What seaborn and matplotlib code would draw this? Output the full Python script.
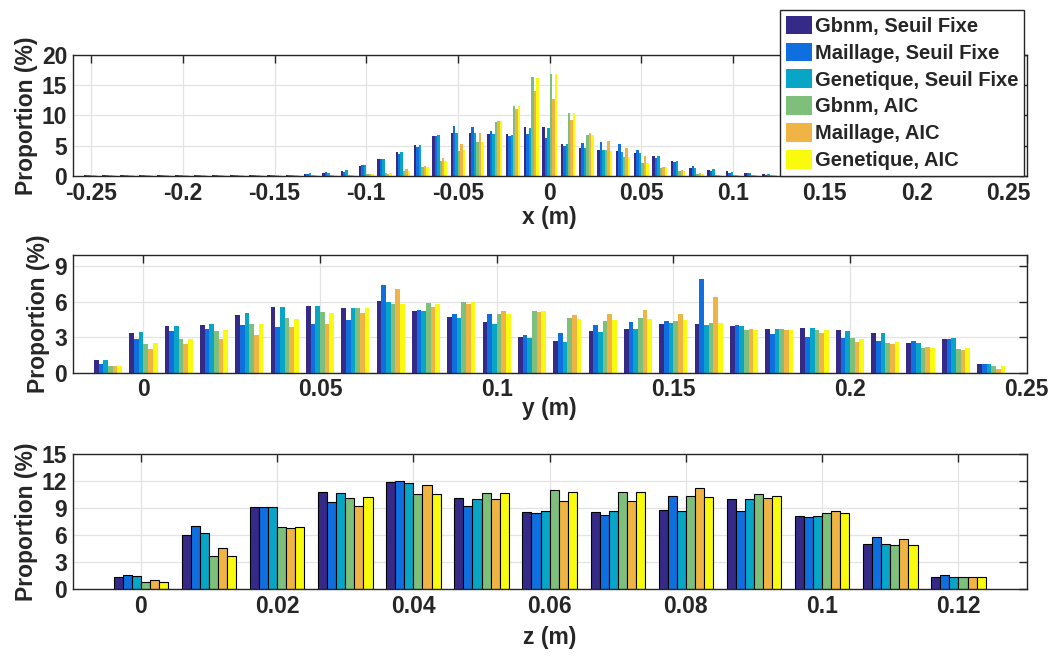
import numpy as np
import pandas as pd
import matplotlib
matplotlib.use("Agg")
import matplotlib.pyplot as plt
from matplotlib.ticker import MultipleLocator, FuncFormatter
import seaborn as sns

#-----------------------------------------------------------------------------------------------------
# Series et couleurs
series = ["Gbnm, Seuil Fixe", "Maillage, Seuil Fixe", "Genetique, Seuil Fixe",
          "Gbnm, AIC", "Maillage, AIC", "Genetique, AIC"]
colors = ["#352A87", "#0F6FDE", "#08A5C6", "#7DBF7B", "#F0B445", "#F9FB0E"]

# x : classes de -0.25 a 0.25 (pas 0.01)
x_bins = np.round(np.arange(-0.25, 0.2501, 0.01), 2)
x_gbnm_sf = [0.08, 0.08, 0.08, 0.08, 0.08, 0.08, 0.08, 0.08, 0.08, 0.08,
             0.15, 0.2, 0.3, 0.55, 0.8, 1.7, 2.75, 3.95, 5.1, 6.6,
             7.05, 7.05, 6.9, 6.9, 8.05, 8.05, 5.27, 4.6, 4.3, 4.1,
             3.8, 3.3, 2.47, 1.3, 1.0, 0.82, 0.5, 0.33, 0.2, 0.15,
             0.08, 0.08, 0.08, 0.08, 0.08, 0.08, 0.08, 0.08, 0.08, 0.08, 0.08]
x_maill_sf = [0.08, 0.08, 0.08, 0.08, 0.08, 0.08, 0.08, 0.08, 0.08, 0.08,
              0.1, 0.2, 0.4, 0.65, 0.65, 1.8, 2.75, 3.65, 4.75, 6.6,
              8.2, 8.05, 7.4, 6.6, 6.9, 6.25, 4.95, 5.45, 5.6, 5.27,
              4.3, 2.95, 2.3, 1.65, 0.82, 0.5, 0.5, 0.15, 0.15, 0.1,
              0.08, 0.08, 0.08, 0.08, 0.08, 0.08, 0.08, 0.08, 0.08, 0.08, 0.08]
x_gen_sf = [0.08, 0.08, 0.08, 0.08, 0.08, 0.08, 0.08, 0.08, 0.08, 0.08,
            0.1, 0.2, 0.5, 0.5, 1.0, 1.8, 2.75, 3.95, 5.1, 6.75,
            7.05, 7.05, 6.9, 6.75, 7.9, 7.9, 5.27, 4.6, 4.3, 3.95,
            3.8, 3.3, 2.47, 1.3, 1.15, 0.66, 0.5, 0.33, 0.2, 0.1,
            0.08, 0.08, 0.08, 0.08, 0.08, 0.08, 0.08, 0.08, 0.08, 0.08, 0.08]
x_gbnm_aic = [0.08, 0.08, 0.08, 0.08, 0.08, 0.08, 0.08, 0.08, 0.08, 0.08,
              0.08, 0.08, 0.08, 0.1, 0.15, 0.35, 0.5, 0.8, 1.55, 2.45,
              4.1, 5.6, 8.9, 11.6, 16.4, 16.8, 10.4, 6.75, 4.3, 3.1,
              2.15, 1.3, 0.8, 0.33, 0.15, 0.15, 0.08, 0.08, 0.08, 0.08,
              0.08, 0.08, 0.08, 0.08, 0.08, 0.08, 0.08, 0.08, 0.08, 0.08, 0.08]
x_maill_aic = [0.08, 0.08, 0.08, 0.08, 0.08, 0.08, 0.08, 0.08, 0.08, 0.08,
               0.08, 0.08, 0.08, 0.1, 0.15, 0.35, 0.35, 1.15, 1.7, 2.95,
               5.25, 7.05, 9.05, 11.1, 14.0, 12.7, 9.2, 7.1, 5.75, 4.6,
               3.3, 1.5, 1.0, 0.5, 0.15, 0.15, 0.08, 0.08, 0.08, 0.08,
               0.08, 0.08, 0.08, 0.08, 0.08, 0.08, 0.08, 0.08, 0.08, 0.08, 0.08]
x_gen_aic = [0.08, 0.08, 0.08, 0.08, 0.08, 0.08, 0.08, 0.08, 0.08, 0.08,
             0.08, 0.08, 0.08, 0.1, 0.15, 0.35, 0.5, 0.8, 1.5, 2.45,
             4.25, 5.6, 9.05, 11.5, 16.1, 16.8, 10.4, 6.75, 4.1, 3.1,
             2.15, 1.5, 0.8, 0.33, 0.15, 0.15, 0.08, 0.08, 0.08, 0.08,
             0.08, 0.08, 0.08, 0.08, 0.08, 0.08, 0.08, 0.08, 0.08, 0.08, 0.08]

# y : classes de -0.01 a 0.24
y_bins = np.round(np.arange(-0.01, 0.2401, 0.01), 2)
y_gbnm_sf = [1.07, 3.34, 3.93, 4.02, 4.86, 5.53, 5.62, 5.45, 6.04, 5.2, 4.69, 4.27, 3.0,
             2.67, 3.51, 3.68, 4.1, 4.1, 3.93, 3.68, 3.76, 3.6, 3.34, 2.5, 2.84, 0.73]
y_maill_sf = [0.73, 2.84, 3.51, 3.68, 4.02, 3.85, 4.1, 4.44, 7.39, 5.28, 4.94, 4.94, 3.17,
              3.34, 4.02, 4.27, 4.35, 7.98, 4.02, 3.26, 3.0, 2.92, 2.67, 2.67, 2.84, 0.73]
y_gen_sf = [1.07, 3.43, 3.93, 4.1, 5.03, 5.53, 5.62, 5.45, 5.96, 5.2, 4.6, 4.1, 2.92,
            2.58, 3.43, 3.68, 4.19, 4.02, 3.93, 3.68, 3.76, 3.51, 3.34, 2.5, 2.92, 0.73]
y_gbnm_aic = [0.56, 2.42, 2.84, 3.51, 4.1, 4.6, 5.11, 5.45, 5.79, 5.87, 5.96, 4.94, 5.2,
              4.6, 4.35, 4.6, 4.35, 4.19, 3.6, 3.68, 3.6, 2.92, 2.5, 2.08, 2.0, 0.56]
y_maill_aic = [0.56, 2.0, 2.42, 2.84, 3.17, 3.85, 4.1, 5.03, 7.13, 5.53, 5.79, 5.2, 5.11,
               4.86, 4.94, 5.28, 4.94, 6.38, 3.68, 3.6, 3.34, 2.58, 2.42, 2.16, 1.91, 0.31]
y_gen_aic = [0.56, 2.5, 2.84, 3.6, 4.1, 4.52, 5.03, 5.45, 5.79, 5.79, 5.96, 4.94, 5.2,
             4.52, 4.44, 4.52, 4.44, 4.19, 3.6, 3.6, 3.6, 2.84, 2.58, 2.08, 2.08, 0.56]

# z : classes de 0 a 0.12
z_bins = np.round(np.arange(0.0, 0.1201, 0.01), 2)
z_gbnm_sf = [1.37, 5.96, 9.15, 10.78, 11.93, 10.19, 8.63, 8.63, 8.78, 10.07, 8.15, 5.04, 1.33]
z_maill_sf = [1.56, 7.0, 9.11, 9.74, 12.07, 9.3, 8.52, 8.19, 10.41, 8.67, 8.0, 5.74, 1.59]
z_gen_sf = [1.48, 6.19, 9.15, 10.7, 11.81, 10.04, 8.7, 8.67, 8.67, 10.07, 8.11, 4.96, 1.37]
z_gbnm_aic = [0.74, 3.7, 6.89, 10.15, 10.6, 10.7, 11.0, 10.81, 10.33, 10.56, 8.41, 4.85, 1.3]
z_maill_aic = [1.04, 4.56, 6.85, 9.19, 11.56, 10.04, 9.81, 9.85, 11.22, 10.19, 8.74, 5.59, 1.3]
z_gen_aic = [0.74, 3.7, 6.96, 10.3, 10.6, 10.7, 10.85, 10.81, 10.3, 10.37, 8.41, 4.93, 1.3]

#-----------------------------------------------------------------------------------------------------
def to_long(bins, values):
    frames = []
    for name, vals in zip(series, values):
        frames.append(pd.DataFrame({"pos": bins, "prop": vals, "serie": name}))
    return pd.concat(frames, ignore_index=True)

df_x = to_long(x_bins, [x_gbnm_sf, x_maill_sf, x_gen_sf, x_gbnm_aic, x_maill_aic, x_gen_aic])
df_y = to_long(y_bins, [y_gbnm_sf, y_maill_sf, y_gen_sf, y_gbnm_aic, y_maill_aic, y_gen_aic])
df_z = to_long(z_bins, [z_gbnm_sf, z_maill_sf, z_gen_sf, z_gbnm_aic, z_maill_aic, z_gen_aic])

sns.set_theme(style="whitegrid")
plt.rcParams["font.family"] = ["Liberation Sans", "DejaVu Sans"]
plt.rcParams["font.weight"] = "bold"
plt.rcParams["axes.labelweight"] = "bold"

dark = "#262626"
fig = plt.figure(figsize=(10.54, 6.59), dpi=100)
ax_x = fig.add_axes([0.069, 0.733, 0.905, 0.184])
ax_y = fig.add_axes([0.069, 0.4345, 0.905, 0.179])
ax_z = fig.add_axes([0.069, 0.1062, 0.905, 0.2044])

fmt = FuncFormatter(lambda v, p: "%g" % round(v, 3))

# axe, donnees, label, xlim, pas x, ylim, pas y, bordure, labelpad
panels = [
    (ax_x, df_x, "x (m)", (-0.26, 0.26), 0.05, (0, 20), 5, 0, 1),
    (ax_y, df_y, "y (m)", (-0.02, 0.25), 0.05, (0, 10), 3, 0, -3),
    (ax_z, df_z, "z (m)", (-0.01, 0.13), 0.02, (0, 15), 3, 0.8, 6),
]

for ax, d, lab, xlim, xstep, ylim, ystep, lw, lpad in panels:
    sns.barplot(data=d, x="pos", y="prop", hue="serie", palette=colors,
                native_scale=True, errorbar=None, width=0.8, saturation=1,
                edgecolor="black", linewidth=lw, ax=ax, legend=(ax is ax_x))
    ax.set_xlim(*xlim)
    ax.set_ylim(*ylim)
    ax.xaxis.set_major_locator(MultipleLocator(xstep))
    ax.yaxis.set_major_locator(MultipleLocator(ystep))
    ax.xaxis.set_major_formatter(fmt)
    ax.set_xlabel(lab, fontsize=16.5, fontweight="bold", color=dark, labelpad=lpad)
    ax.set_ylabel("Proportion (%)", fontsize=16.5, fontweight="bold", color=dark, labelpad=3)
    ax.grid(True, color="#E3E3E3", linewidth=0.9)
    ax.set_axisbelow(True)
    ax.tick_params(direction="in", length=6, width=1, top=True, right=True,
                   labelsize=16.5, colors=dark, pad=4)
    for t in ax.get_xticklabels() + ax.get_yticklabels():
        t.set_fontweight("bold")
    for s in ax.spines.values():
        s.set_color(dark)
        s.set_linewidth(1)
        s.set_visible(True)

handles, labels = ax_x.get_legend_handles_labels()
ax_x.legend_.remove()
leg = fig.legend(handles, labels, loc="upper right", bbox_to_anchor=(0.9716, 0.9854),
                 borderaxespad=0, frameon=True, fancybox=False,
                 handlelength=1.25, handleheight=1.05, handletextpad=0.15,
                 labelspacing=0.33, borderpad=0.3, prop={"weight": "bold", "size": 14.5})
leg.get_frame().set_edgecolor(dark)
leg.get_frame().set_linewidth(1)
leg.get_frame().set_alpha(1)

fig.savefig("out.png", dpi=100)
